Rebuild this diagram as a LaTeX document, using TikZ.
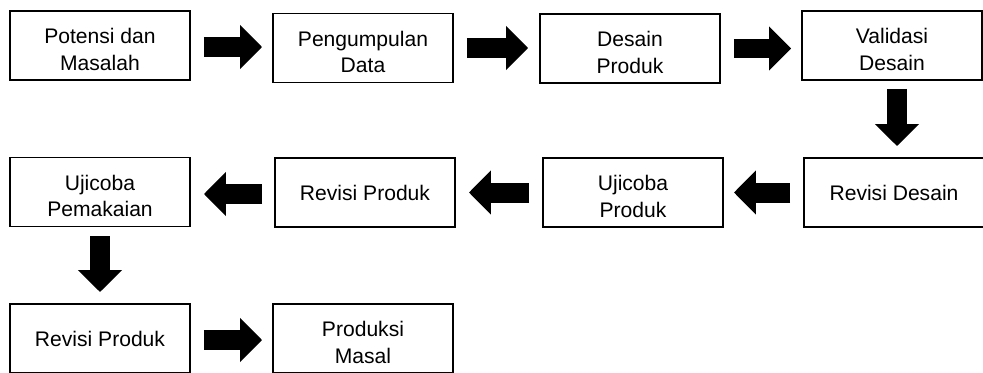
\documentclass[tikz,border=0pt]{standalone}
\usepackage{fontspec}
\setmainfont{Liberation Sans}
\usetikzlibrary{arrows.meta}
\newcommand{\ganjal}{\rule{0pt}{0.46cm}}

\begin{document}
\begin{tikzpicture}[x=0.02cm, y=-0.02cm,
	box/.style = {draw, line width=1.1pt, minimum width=3.6cm, minimum height=1.38cm,
		align=center, inner sep=0pt, font=\fontsize{12}{15}\selectfont},
	blok/.style = {line width=0.4cm, -{Triangle[length=0.44cm, width=0.86cm]}}]
			\useasboundingbox (0,0) rectangle (983,372);
			% baris pertama
			\node[box] (potensi) at (100,45.5) {\ganjal Potensi dan\\Masalah};
			\node[box] (kumpul) at (363,48) {\ganjal Pengumpulan\\Data};
			\node[box] (desain) at (630,48.5) {\ganjal Desain\\Produk};
			\node[box] (validasi) at (892,45.5) {\ganjal Validasi\\Desain};
			% baris kedua
			\node[box] (revdesain) at (894,192.5) {Revisi Desain};
			\node[box] (ujiproduk) at (633,192.5) {\ganjal Ujicoba\\Produk};
			\node[box] (revproduk) at (365,192.5) {Revisi Produk};
			\node[box] (ujipakai) at (100,192) {\ganjal Ujicoba\\Pemakaian};
			% baris ketiga
			\node[box] (revakhir) at (100,338.5) {Revisi Produk};
			\node[box] (masal) at (363,338.5) {\ganjal Produksi\\Masal};
			% panah
			\draw[blok] ([xshift=0.26cm,yshift=-0.03cm]potensi.east) -- ([xshift=-0.2cm,yshift=-0.03cm]potensi.east -| kumpul.west);
			\draw[blok] ([xshift=0.26cm]kumpul.east) -- ([xshift=-0.22cm]kumpul.east -| desain.west);
			\draw[blok] ([xshift=0.26cm]desain.east) -- ([xshift=-0.2cm]desain.east -| validasi.west);
			\draw[blok] ([xshift=0.1cm,yshift=-0.16cm]validasi.south) -- ([xshift=0.1cm,yshift=0.22cm]validasi.south |- revdesain.north);
			\draw[blok] ([xshift=-0.26cm]revdesain.west) -- ([xshift=0.2cm]ujiproduk.east);
			\draw[blok] ([xshift=-0.26cm]ujiproduk.west) -- ([xshift=0.26cm]revproduk.east);
			\draw[blok] ([xshift=-0.24cm,yshift=-0.03cm]revproduk.west) -- ([xshift=0.26cm,yshift=-0.03cm]revproduk.west -| ujipakai.east);
			\draw[blok] ([yshift=-0.18cm]ujipakai.south) -- ([yshift=0.22cm]revakhir.north);
			\draw[blok] ([xshift=0.26cm,yshift=-0.03cm]revakhir.east) -- ([xshift=-0.2cm,yshift=-0.03cm]revakhir.east -| masal.west);
\end{tikzpicture}
\end{document}
